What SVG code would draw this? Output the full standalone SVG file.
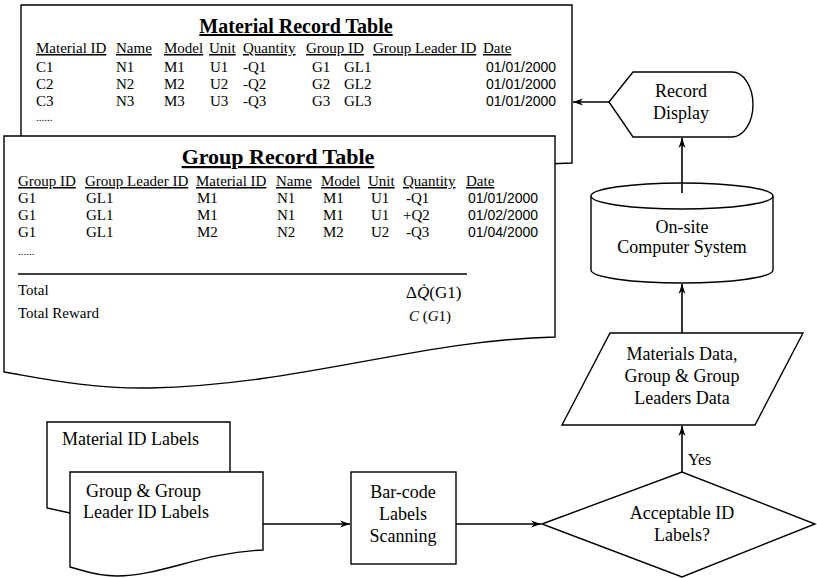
<svg xmlns="http://www.w3.org/2000/svg" width="817" height="578" viewBox="0 0 817 578">
<defs>
<style>
.s{fill:#fff;stroke:#000;stroke-width:1.4}
.t{font-family:"Liberation Serif","Times New Roman",serif;font-size:15px;fill:#000}
.h{text-decoration:underline}
.d{font-family:"Liberation Sans",Arial,sans-serif;font-size:14px;fill:#000}
.ti{font-family:"Liberation Serif","Times New Roman",serif;font-weight:bold;fill:#000;text-decoration:underline;text-anchor:middle}
.n{font-family:"Liberation Serif","Times New Roman",serif;font-size:18px;fill:#000;text-anchor:middle}
.l{font-family:"Liberation Serif","Times New Roman",serif;font-size:18px;fill:#000;text-anchor:start}
.c{fill:none;stroke:#000;stroke-width:1.6}
</style>
<marker id="a" markerWidth="11" markerHeight="8" refX="10" refY="4" orient="auto" markerUnits="userSpaceOnUse">
<path d="M0,0.5 L10,4 L0,7.5 L3,4 Z" fill="#000"/>
</marker>
</defs>
<rect width="817" height="578" fill="#fff"/>

<g id="material-table">
<path class="s" d="M21,5 H572 V163 C450,166 300,190 150,192 C90,192 50,186 21,182 Z"/>
<text class="ti" x="296" y="33" font-size="20">Material Record Table</text>
<g class="t">
<text class="h" x="36" y="53">Material ID</text>
<text class="h" x="116" y="53">Name</text>
<text class="h" x="164" y="53">Model</text>
<text class="h" x="209" y="53">Unit</text>
<text class="h" x="243" y="53">Quantity</text>
<text class="h" x="306" y="53">Group ID</text>
<text class="h" x="373" y="53">Group Leader ID</text>
<text class="h" x="483" y="53">Date</text>
<text x="36" y="72">C1</text><text x="116" y="72">N1</text><text x="164" y="72">M1</text><text x="210" y="72">U1</text><text x="243" y="72">-Q1</text><text x="312" y="72">G1</text><text x="344" y="72">GL1</text>
<text x="36" y="89">C2</text><text x="116" y="89">N2</text><text x="164" y="89">M2</text><text x="210" y="89">U2</text><text x="243" y="89">-Q2</text><text x="312" y="89">G2</text><text x="344" y="89">GL2</text>
<text x="36" y="106">C3</text><text x="116" y="106">N3</text><text x="164" y="106">M3</text><text x="210" y="106">U3</text><text x="243" y="106">-Q3</text><text x="312" y="106">G3</text><text x="344" y="106">GL3</text>
<text x="36" y="121" font-size="11">......</text>
</g>
<g class="d">
<text x="486" y="72">01/01/2000</text>
<text x="486" y="89">01/01/2000</text>
<text x="486" y="106">01/01/2000</text>
</g>
</g>

<g id="group-table">
<path class="s" d="M4,136 H555 V337 C420,340 300,385 150,388 C90,389 40,378 4,372 Z" stroke-width="1.8"/>
<text class="ti" x="278" y="164" font-size="22">Group Record Table</text>
<g class="t">
<text class="h" x="18" y="186">Group ID</text>
<text class="h" x="85" y="186">Group Leader ID</text>
<text class="h" x="196" y="186">Material ID</text>
<text class="h" x="276" y="186">Name</text>
<text class="h" x="321" y="186">Model</text>
<text class="h" x="368" y="186">Unit</text>
<text class="h" x="403" y="186">Quantity</text>
<text class="h" x="466" y="186">Date</text>
<text x="18" y="203">G1</text><text x="86" y="203">GL1</text><text x="197" y="203">M1</text><text x="277" y="203">N1</text><text x="323" y="203">M1</text><text x="371" y="203">U1</text><text x="406" y="203">-Q1</text>
<text x="18" y="220">G1</text><text x="86" y="220">GL1</text><text x="197" y="220">M1</text><text x="277" y="220">N1</text><text x="323" y="220">M1</text><text x="371" y="220">U1</text><text x="403" y="220">+Q2</text>
<text x="18" y="237">G1</text><text x="86" y="237">GL1</text><text x="197" y="237">M2</text><text x="277" y="237">N2</text><text x="323" y="237">M2</text><text x="371" y="237">U2</text><text x="406" y="237">-Q3</text>
<text x="18" y="255" font-size="11">......</text>
<text x="18" y="295">Total</text>
<text x="18" y="318">Total Reward</text>
<text x="406" y="298" font-size="17">Δ<tspan font-style="italic">Q̇</tspan>(G1)</text>
<text x="409" y="321"><tspan font-style="italic">C</tspan> (<tspan font-style="italic">G</tspan>1)</text>
</g>
<g class="d">
<text x="468" y="203">01/01/2000</text>
<text x="468" y="220">01/02/2000</text>
<text x="468" y="237">01/04/2000</text>
</g>
<line x1="18" y1="274" x2="467" y2="274" stroke="#000" stroke-width="1.4"/>
</g>

<g id="record-display">
<path class="s" d="M609,102 L633,72 H732 A21,32.5 0 0 1 732,137 H633 Z"/>
<text class="n" x="681" y="97">Record</text>
<text class="n" x="681" y="119">Display</text>
</g>

<g id="computer-system">
<path class="s" d="M591,196 V270 A91,13 0 0 0 773,270 V196"/>
<ellipse class="s" cx="682" cy="196" rx="91" ry="13"/>
<text class="n" x="682" y="233">On-site</text>
<text class="n" x="682" y="253">Computer System</text>
</g>

<g id="data">
<path class="s" d="M610,333 H803 L755,425 H562 Z"/>
<text class="n" x="682" y="360">Materials Data,</text>
<text class="n" x="682" y="382">Group &amp; Group</text>
<text class="n" x="682" y="404">Leaders Data</text>
</g>

<g id="decision">
<path class="s" d="M542,524 L682,472 L815,524 L682,577 Z"/>
<text class="n" x="682" y="519">Acceptable ID</text>
<text class="n" x="682" y="541">Labels?</text>
</g>

<g id="scanning">
<rect class="s" x="351" y="472" width="105" height="92"/>
<text class="n" x="403" y="498">Bar-code</text>
<text class="n" x="403" y="520">Labels</text>
<text class="n" x="403" y="542">Scanning</text>
</g>

<g id="material-labels">
<path class="s" d="M47,422 H230 V500 C170,505 120,518 70,513 L47,508 Z"/>
<text class="l" x="62" y="445">Material ID Labels</text>
</g>

<g id="group-labels">
<path class="s" d="M70,472 H263 V550 C200,553 160,576 117,576 C95,576 82,570 70,567 Z"/>
<text class="l" x="86" y="497">Group &amp; Group</text>
<text class="l" x="83" y="518">Leader ID Labels</text>
</g>

<g id="connectors">
<line class="c" x1="263" y1="524" x2="350" y2="524" marker-end="url(#a)"/>
<line class="c" x1="456" y1="524" x2="541" y2="524" marker-end="url(#a)"/>
<line class="c" x1="682" y1="472" x2="682" y2="426" marker-end="url(#a)"/>
<text x="688" y="465" font-family="Liberation Serif, serif" font-size="16">Yes</text>
<line class="c" x1="682" y1="333" x2="682" y2="284" marker-end="url(#a)"/>
<line class="c" x1="682" y1="193" x2="682" y2="138" marker-end="url(#a)"/>
<line class="c" x1="609" y1="102" x2="573" y2="102" marker-end="url(#a)"/>
</g>
</svg>
